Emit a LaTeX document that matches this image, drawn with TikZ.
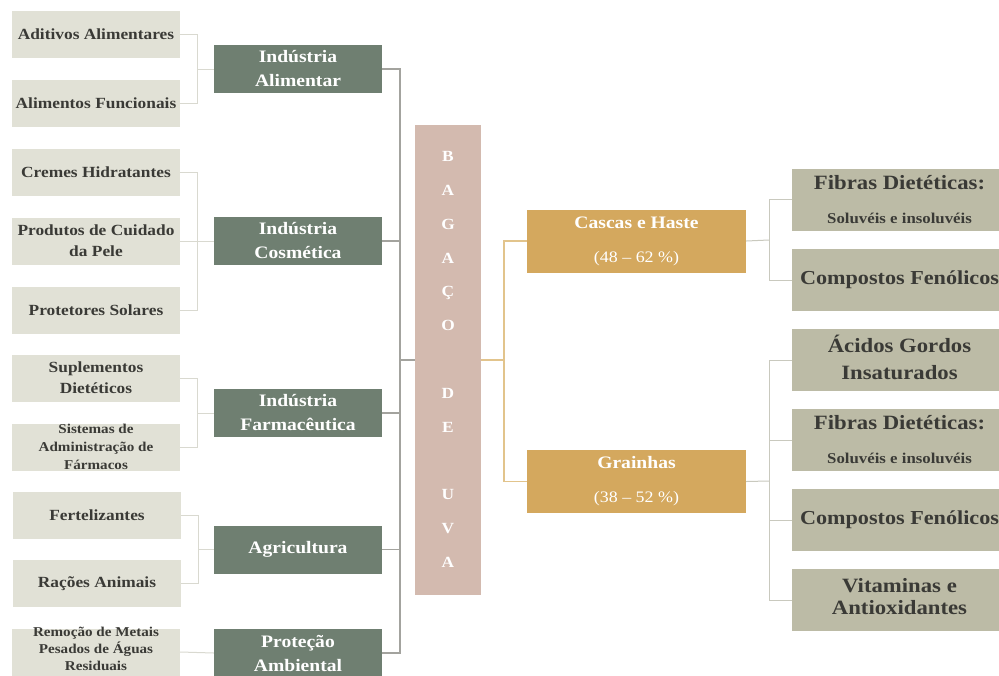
\documentclass[tikz,border=0pt]{standalone}
\usepackage{fontspec}
\setmainfont{Liberation Serif}[FakeStretch=1.12]
\definecolor{lightc}{HTML}{E1E1D6}
\definecolor{darkc}{HTML}{6F7F71}
\definecolor{bagc}{HTML}{D3BAAF}
\definecolor{orc}{HTML}{D4A85E}
\definecolor{rightc}{HTML}{BCBBA6}
\definecolor{txtd}{HTML}{3A3A36}
\definecolor{llinec}{HTML}{D9D9D0}
\definecolor{mlinec}{HTML}{A3A39E}
\definecolor{olinec}{HTML}{E2C48C}
\definecolor{rlinec}{HTML}{C9C9BE}
\begin{document}
\begin{tikzpicture}[x=1pt,y=-1pt,
  lbox/.style={fill=lightc, minimum width=168pt, minimum height=47pt, inner sep=0pt, align=center, text=txtd, font=\bfseries\fontsize{15.5}{21}\selectfont},
  sbox/.style={lbox, font=\bfseries\fontsize{13.5}{18}\selectfont},
  ltext/.style={inner sep=0pt, align=center, text=txtd, font=\bfseries\fontsize{13.5}{17}\selectfont},
  dbox/.style={fill=darkc, minimum width=168pt, minimum height=48pt, inner sep=0pt, align=center, text=white, font=\bfseries\fontsize{17.5}{24}\selectfont},
  obox/.style={fill=orc, minimum width=219pt, minimum height=63pt, inner sep=0pt, align=center, text=white, font=\fontsize{16}{34}\selectfont},
  rbox/.style={fill=rightc, minimum width=215pt, minimum height=62pt, inner sep=0pt, align=center, text=txtd, font=\bfseries\fontsize{20.3}{27}\selectfont},
  rtext/.style={inner sep=0pt, align=center, text=txtd, font=\bfseries\fontsize{20.3}{27}\selectfont},
  lline/.style={draw=llinec, line width=1pt},
  mline/.style={draw=mlinec, line width=1.1pt},
  oline/.style={draw=olinec, line width=1.1pt},
  rline/.style={draw=rlinec, line width=1pt}]
\clip (0,0) rectangle (999,675);
\fill[white] (0,0) rectangle (999,675);

% left boxes
\node[lbox] (a1) at (96,34.5) {Aditivos Alimentares};
\node[lbox] (a2) at (96,103.5) {Alimentos Funcionais};
\node[lbox] (c1) at (96,172.5) {Cremes Hidratantes};
\node[lbox] (c2) at (96,241) {Produtos de Cuidado\\da Pele};
\node[lbox] (c3) at (96,310) {Protetores Solares};
\node[lbox] (f1) at (96,378) {Suplementos\\Dietéticos};
\node[sbox] (f2) at (96,447) {Sistemas de\\Administração de\\Fármacos};
\node[lbox] (g1) at (97,515) {Fertelizantes};
\node[lbox] (g2) at (97,583.5) {Rações Animais};
\node[lbox] (p1) at (96,652) {};
\node[ltext] (p1t) at (96,648.5) {Remoção de Metais\\Pesados de Águas\\Residuais};

% dark boxes
\node[dbox] (ia) at (298,69) {Indústria\\Alimentar};
\node[dbox] (ic) at (298,241) {Indústria\\Cosmética};
\node[dbox] (if) at (298,413) {Indústria\\Farmacêutica};
\node[dbox] (ag) at (298,549.5) {Agricultura};
\node[dbox] (pa) at (298,653) {Proteção\\Ambiental};

% central box
\node[fill=bagc, minimum width=66pt, minimum height=470pt, inner sep=0pt] (bag) at (448,360) {};
\node[text=white, align=center, font=\bfseries\fontsize{15.5}{33.8}\selectfont] (bagt) at (448,359.5) {B\\A\\G\\A\\Ç\\O\\\mbox{}\\D\\E\\\mbox{}\\U\\V\\A};

% orange boxes
\node[obox] (ch) at (636.5,241) {{\bfseries\fontsize{17.5}{34}\selectfont Cascas e Haste}\\(48 – 62 \%)};
\node[obox] (gr) at (636.5,481.5) {{\bfseries\fontsize{17.5}{34}\selectfont Grainhas}\\(38 – 52 \%)};

% right boxes
\node[rbox, font=\bfseries\fontsize{20.3}{34}\selectfont] (r1) at (899.5,199.5) {Fibras Dietéticas:\\{\fontsize{15}{15}\selectfont Soluvéis e insoluvéis}};
\node[rbox, font=\bfseries\fontsize{19.8}{27}\selectfont] (r2) at (899.5,280) {Compostos Fenólicos};
\node[rbox] (r3) at (899.5,360) {};
\node[rtext] (r3t) at (899.5,357) {Ácidos Gordos\\Insaturados};
\node[rbox, font=\bfseries\fontsize{20.3}{34}\selectfont] (r4) at (899.5,440) {Fibras Dietéticas:\\{\fontsize{15}{15}\selectfont Soluvéis e insoluvéis}};
\node[rbox, font=\bfseries\fontsize{19.8}{27}\selectfont] (r5) at (899.5,520) {Compostos Fenólicos};
\node[rbox] (r6) at (899.5,600) {};
\node[rtext, font=\bfseries\fontsize{20.3}{22}\selectfont] (r6t) at (899.5,597) {Vitaminas e\\Antioxidantes};

% left connectors
\coordinate (ja) at (197,69);
\coordinate (jc) at (197,241);
\coordinate (jf) at (197,413);
\coordinate (jg) at (198,549.5);
\draw[lline] (a1.east) -| (ja);
\draw[lline] (a2.east) -| (ja);
\draw[lline] (ja) -- (ia.west);
\draw[lline] (c1.east) -| (jc);
\draw[lline] (c3.east) -| (jc);
\draw[lline] (c2.east) -- (ic.west);
\draw[lline] (f1.east) -| (jf);
\draw[lline] (f2.east) -| (jf);
\draw[lline] (jf) -- (if.west);
\draw[lline] (g1.east) -| (jg);
\draw[lline] (g2.east) -| (jg);
\draw[lline] (jg) -- (ag.west);
\draw[lline] (p1.east) -- (pa.west);

% main connectors
\coordinate (jm) at (400,360);
\draw[mline] (ia.east) -| (jm);
\draw[mline] (ic.east) -| (jm);
\draw[mline] (if.east) -| (jm);
\draw[mline] (ag.east) -| (jm);
\draw[mline] (pa.east) -| (jm);
\draw[mline] (jm) -- (bag.west);

% orange connectors
\coordinate (jo) at (504,360);
\draw[oline] (bag.east) -- (jo);
\draw[oline] (jo) |- (ch.west);
\draw[oline] (jo) |- (gr.west);

% right connectors
\coordinate (jr1) at (769,240);
\coordinate (jr2) at (769,481);
\draw[rline] (ch.east) -- (jr1);
\draw[rline] (jr1) |- (r1.west);
\draw[rline] (jr1) |- (r2.west);
\draw[rline] (gr.east) -- (jr2);
\draw[rline] (jr2) |- (r3.west);
\draw[rline] (jr2) |- (r4.west);
\draw[rline] (jr2) |- (r5.west);
\draw[rline] (jr2) |- (r6.west);
\end{tikzpicture}
\end{document}
